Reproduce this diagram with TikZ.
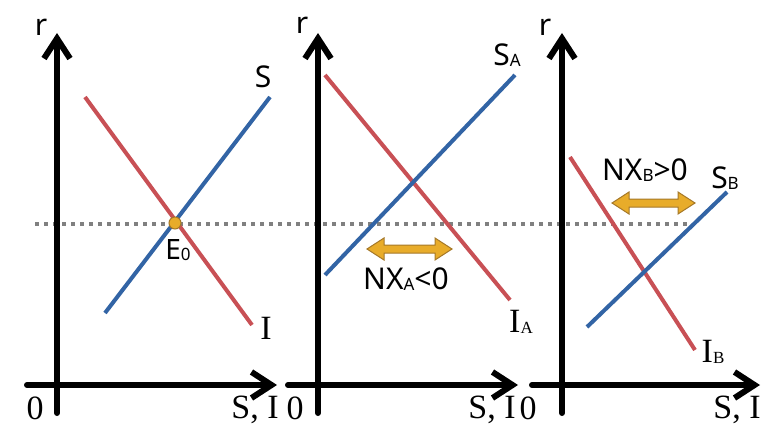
\documentclass[tikz,border=0pt]{standalone}
\usepackage{fontspec}
\usetikzlibrary{arrows.meta, positioning, calc}
\newfontfamily\lblfont{Noto Sans}
\newfontfamily\axfont{Liberation Serif}
\definecolor{schedred}{RGB}{200,80,85}
\definecolor{schedblue}{RGB}{50,100,165}
\definecolor{nxorange}{RGB}{232,172,42}
\definecolor{nxedge}{RGB}{165,120,40}
\newcommand{\sub}[1]{\raisebox{-1pt}{\fontsize{17}{17}\selectfont #1}}

\tikzset{
  axis/.style={line width=6pt, -{Straight Barb[length=20pt, width=26pt, line width=6pt]}, line cap=round},
  redline/.style={schedred, line width=4pt},
  blueline/.style={schedblue, line width=4pt},
  sanslbl/.style={inner sep=0pt, font=\lblfont\fontsize{30}{30}\selectfont},
  seriflbl/.style={inner sep=0pt, font=\axfont\fontsize{34}{34}\selectfont},
  nxarrow/.style={fill=nxorange, draw=nxedge, line width=1pt, line join=miter}
}

\begin{document}
\begin{tikzpicture}[x=1pt, y=-1pt]
  \useasboundingbox (0,0) rectangle (773,444);

  % world interest rate
  \coordinate (wl) at (35,224);
  \coordinate (wr) at (690,224);
  \draw[black!50, line width=4pt, dash pattern=on 4pt off 5pt] (wl) -- (wr);

  % panel 1 : closed economy
  \coordinate (y1b) at (57,413);  \coordinate (y1t) at (57,33);
  \coordinate (x1l) at (27,385);  \coordinate (x1r) at (277,385);
  \draw[axis] (y1b) -- (y1t);
  \draw[axis] (x1l) -- (x1r);
  \node[sanslbl] (r1) at (41,27) {r};
  \node[seriflbl] (o1) at (35,408) {0};
  \node[seriflbl] (si1) at (255,410) {S, I};

  \coordinate (i1a) at (85,97);   \coordinate (i1b) at (252,325);
  \coordinate (s1a) at (105,313); \coordinate (s1b) at (270,97);
  \draw[redline] (i1a) -- (i1b);
  \draw[blueline] (s1a) -- (s1b);
  \node[sanslbl] (slbl1) at (263,77) {S};
  \node[seriflbl] (ilbl1) at (266,328) {I};
  \node[circle, fill=nxorange, draw=nxedge, line width=1pt, minimum size=12pt, inner sep=0pt] (e0) at (175,223) {};
  \node[sanslbl, font=\lblfont\fontsize{28}{28}\selectfont] (e0lbl) at (178,250) {E\sub{0}};

  % panel 2 : country A
  \coordinate (y2b) at (318,413); \coordinate (y2t) at (318,33);
  \coordinate (x2l) at (288,385); \coordinate (x2r) at (518,385);
  \draw[axis] (y2b) -- (y2t);
  \draw[axis] (x2l) -- (x2r);
  \node[sanslbl] (r2) at (302,25) {r};
  \node[seriflbl] (o2) at (295,408) {0};
  \node[seriflbl] (si2) at (492,410) {S, I};

  \coordinate (i2a) at (325,75);  \coordinate (i2b) at (510,300);
  \coordinate (s2a) at (325,275); \coordinate (s2b) at (515,75);
  \draw[redline] (i2a) -- (i2b);
  \draw[blueline] (s2a) -- (s2b);
  \node[sanslbl] (slbl2) at (507,55) {S\sub{A}};
  \node[seriflbl] (ilbl2) at (521,322) {I\sub{A}};
  \draw[nxarrow] (367,249) -- ++(17,-11) -- ++(0,7) -- (435,245) -- ++(0,-7)
    -- (452,249) -- ++(-17,11) -- ++(0,-7) -- (384,253) -- ++(0,7) -- cycle;
  \node[sanslbl] (nxa) at (406,279) {NX\sub{A}<0};

  % panel 3 : country B
  \coordinate (y3b) at (562,413); \coordinate (y3t) at (562,33);
  \coordinate (x3l) at (532,385); \coordinate (x3r) at (760,385);
  \draw[axis] (y3b) -- (y3t);
  \draw[axis] (x3l) -- (x3r);
  \node[sanslbl] (r3) at (545,27) {r};
  \node[seriflbl] (o3) at (528,408) {0};
  \node[seriflbl] (si3) at (737,410) {S, I};

  \coordinate (i3a) at (570,157); \coordinate (i3b) at (695,350);
  \coordinate (s3a) at (587,327); \coordinate (s3b) at (727,192);
  \draw[redline] (i3a) -- (i3b);
  \draw[blueline] (s3a) -- (s3b);
  \node[sanslbl] (slbl3) at (725,178) {S\sub{B}};
  \node[seriflbl] (ilbl3) at (713,352) {I\sub{B}};
  \draw[nxarrow] (612,203) -- ++(17,-11) -- ++(0,7) -- (678,199) -- ++(0,-7)
    -- (695,203) -- ++(-17,11) -- ++(0,-7) -- (629,207) -- ++(0,7) -- cycle;
  \node[sanslbl] (nxb) at (645,170) {NX\sub{B}>0};
\end{tikzpicture}
\end{document}
